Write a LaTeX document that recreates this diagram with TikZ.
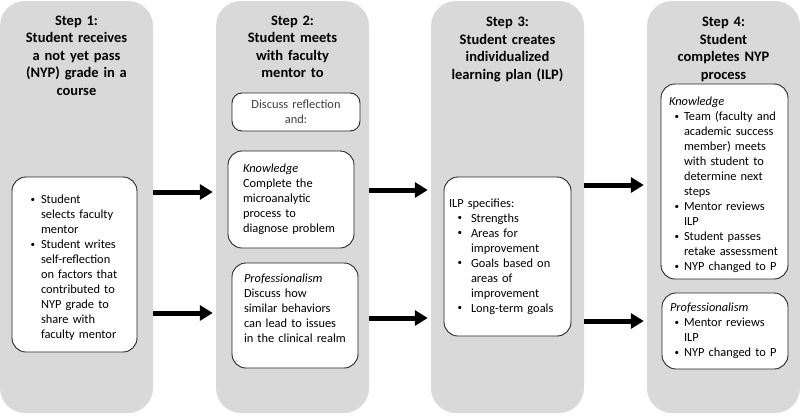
\documentclass[tikz,border=0pt]{standalone}
\usepackage{fontspec}
\setmainfont{Carlito}
\usepackage{enumitem}
\setlist[itemize]{nosep,label=\raisebox{0.1em}{\small\textbullet},before=\raggedright}
\usetikzlibrary{arrows.meta}
\definecolor{colgray}{HTML}{D9D9D9}
\newcommand{\titlefont}{\fontsize{14.5}{17.5}\selectfont\bfseries}
\newcommand{\bodyfont}{\fontsize{12.4}{15}\selectfont}
\tikzset{
  column/.style = {fill = colgray, rounded corners = 25pt, minimum width = 153pt, minimum height = 412pt, inner sep = 0pt},
  steptitle/.style = {anchor = base, align = center, text width = 150pt, font = \titlefont, inner sep = 0pt},
  box/.style = {draw = black!85, line width = 0.9pt, fill = white, rounded corners = 14pt, inner ysep = 0pt, align = left, font = \bodyfont},
  flow/.style = {line width = 5pt, -{Triangle[length = 13pt, width = 15pt]}, shorten > = 3pt}
}
\begin{document}
\begin{tikzpicture}[x = 1pt, y = -1pt]
\useasboundingbox (0,0) rectangle (800,415);
\node[column] (col1) at (76.5,207) {};
\node[column] (col2) at (292.5,207) {};
\node[column] (col3) at (507.5,207) {};
\node[column] (col4) at (723.5,207) {};
\node[steptitle] (title1) at (76.5,25) {Step 1:\\Student receives\\a not yet pass\\(NYP) grade in a\\course};
\node[steptitle] (title2) at (292.5,25) {Step 2:\\Student meets\\with faculty\\mentor to};
\node[steptitle] (title3) at (507.5,27) {Step 3:\\Student creates\\individualized\\learning plan (ILP)};
\node[steptitle] (title4) at (723.5,27) {Step 4:\\Student\\completes NYP\\process};
\node[box, inner xsep = 6pt, text width = 113pt, minimum height = 175pt] (select) at (74.5,264.5) {%
  \begin{itemize}[leftmargin = 23pt, labelsep = 6pt]
  \item Student\\selects faculty\\mentor
  \item Student writes\\self-reflection\\on factors that\\contributed to\\NYP grade to\\share with\\faculty mentor
  \end{itemize}};
\node[box, rounded corners = 10pt, inner xsep = 4pt, text width = 120pt, minimum height = 38pt, align = center, text = black!75] (discuss) at (296,112) {Discuss reflection\\and:};
\node[box, inner xsep = 15pt, text width = 96pt, minimum height = 97pt] (know2) at (291,199.5) {\textit{Knowledge}\\Complete the\\microanalytic\\process to\\diagnose problem};
\node[box, inner xsep = 12pt, text width = 102pt, minimum height = 105pt] (prof2) at (295,315.5) {\textit{Professionalism}\\Discuss how\\similar behaviors\\can lead to issues\\in the clinical realm\rule[-15pt]{0pt}{0pt}};
\node[box, inner xsep = 5pt, text width = 117pt, minimum height = 159pt] (ilp) at (507.5,256.5) {%
  ILP specifies:
  \begin{itemize}[leftmargin = 22pt, labelsep = 9pt]
  \item Strengths
  \item Areas for\\improvement
  \item Goals based on\\areas of\\improvement
  \item Long-term goals
  \end{itemize}};
\node[box, inner xsep = 8pt, text width = 111pt, minimum height = 195pt] (know4) at (724.5,181.5) {%
  \rule{0pt}{16pt}\textit{Knowledge}
  \begin{itemize}[leftmargin = 15pt, labelsep = 5pt]
  \item Team (faculty and\\academic success\\member) meets\\with student to\\determine next\\steps
  \item Mentor reviews\\ILP
  \item Student passes\\retake assessment
  \item NYP changed to P
  \end{itemize}};
\node[box, inner xsep = 8pt, text width = 110pt, minimum height = 76pt] (prof4) at (725,331) {%
  \textit{Professionalism}
  \begin{itemize}[leftmargin = 14pt, labelsep = 5pt]
  \item Mentor reviews\\ILP
  \item NYP changed to P
  \end{itemize}};
\foreach \a/\b/\y in {col1/col2/192, col1/col2/313, col2/col3/190, col2/col3/318, col3/col4/185, col3/col4/321}
  \draw[flow] (\a.east |- 0,\y) -- (\b.west |- 0,\y);
\end{tikzpicture}
\end{document}
